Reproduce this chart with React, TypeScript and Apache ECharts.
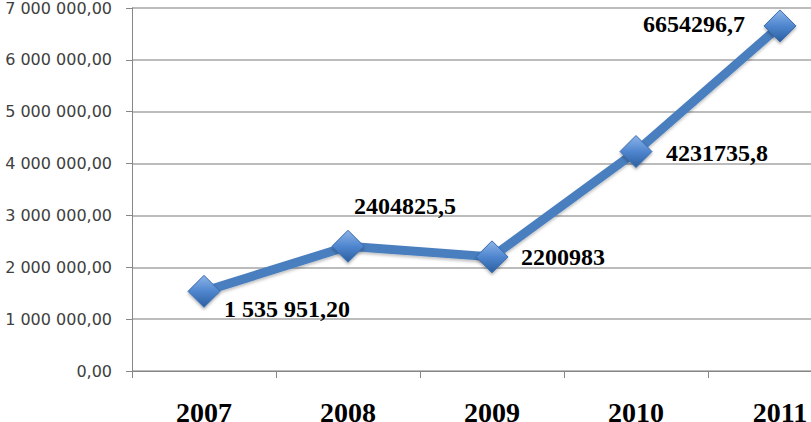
import React, { useEffect, useRef } from "react";
import * as echarts from "echarts";

const years = ["2007", "2008", "2009", "2010", "2011"];
const values = [1535951.2, 2404825.5, 2200983, 4231735.8, 6654296.7];
const valueLabels = ["1 535 951,20", "2404825,5", "2200983", "4231735,8", "6654296,7"];
const yMax = 7000000;
const yInterval = 1000000;

// label offsets relative to marker centre (styling only)
const labelOffsets: [number, number][] = [
  [83, 18],
  [57, -40],
  [71, 0],
  [81, 1],
  [-86, -2],
];

function fmt(v: number): string {
  const s = Math.round(v).toString().replace(/\B(?=(\d{3})+(?!\d))/g, " ");
  return s + ",00";
}

export default function App() {
  const ref = useRef<HTMLDivElement>(null);
  useEffect(() => {
    if (!ref.current) return;
    const chart = echarts.init(ref.current, null, { renderer: "svg" });
    const markerFill = new echarts.graphic.LinearGradient(0, 0, 0, 1, [
      { offset: 0, color: "#8DB4E8" },
      { offset: 0.5, color: "#4F86CF" },
      { offset: 1, color: "#2B5E9F" },
    ]);
    chart.setOption({
      animation: false,
      backgroundColor: "#ffffff",
      grid: {
        left: 132,
        width: 720,
        top: 8,
        height: 363,
        containLabel: false,
        outerBoundsMode: "none",
      },
      xAxis: {
        type: "category",
        data: years,
        boundaryGap: true,
        axisLine: { show: true, lineStyle: { color: "#868686", width: 1 } },
        axisTick: { show: true, length: 7, lineStyle: { color: "#868686" } },
        axisLabel: {
          margin: 27,
          fontFamily: "'Liberation Serif', 'Times New Roman', serif",
          fontWeight: "bold",
          fontSize: 28,
          color: "#000000",
        },
        splitLine: { show: false },
      },
      yAxis: {
        type: "value",
        min: 0,
        max: yMax,
        interval: yInterval,
        axisLine: { show: true, lineStyle: { color: "#868686", width: 1 } },
        axisTick: { show: true, length: 6, lineStyle: { color: "#868686" } },
        axisLabel: {
          margin: 20,
          fontFamily: "'DejaVu Sans', sans-serif",
          fontSize: 16,
          color: "#404040",
          formatter: (v: number) => fmt(v),
        },
        splitLine: { show: true, lineStyle: { color: "#a6a6a6", width: 1.5 } },
      },
      series: [
        {
          type: "line",
          data: values.map((v, i) => ({
            value: v,
            label: {
              show: true,
              position: "inside",
              offset: labelOffsets[i],
              formatter: () => valueLabels[i],
            },
          })),
          lineStyle: {
            color: "#4A7EBF",
            width: 9,
            shadowColor: "rgba(0,0,0,0.25)",
            shadowBlur: 3,
            shadowOffsetY: 2,
          },
          symbol: "diamond",
          symbolSize: [32, 32],
          itemStyle: {
            color: markerFill,
            borderColor: "#3A6DB0",
            borderWidth: 1,
            shadowColor: "rgba(0,0,0,0.3)",
            shadowBlur: 3,
            shadowOffsetY: 2,
          },
          label: {
            fontFamily: "'Liberation Serif', 'Times New Roman', serif",
            fontWeight: "bold",
            fontSize: 24,
            color: "#000000",
          },
          z: 3,
        },
      ],
    });
    return () => chart.dispose();
  }, []);
  return (
    <div
      ref={ref}
      style={{ position: "absolute", left: 0, top: 0, width: 811, height: 422, overflow: "hidden" }}
    />
  );
}
